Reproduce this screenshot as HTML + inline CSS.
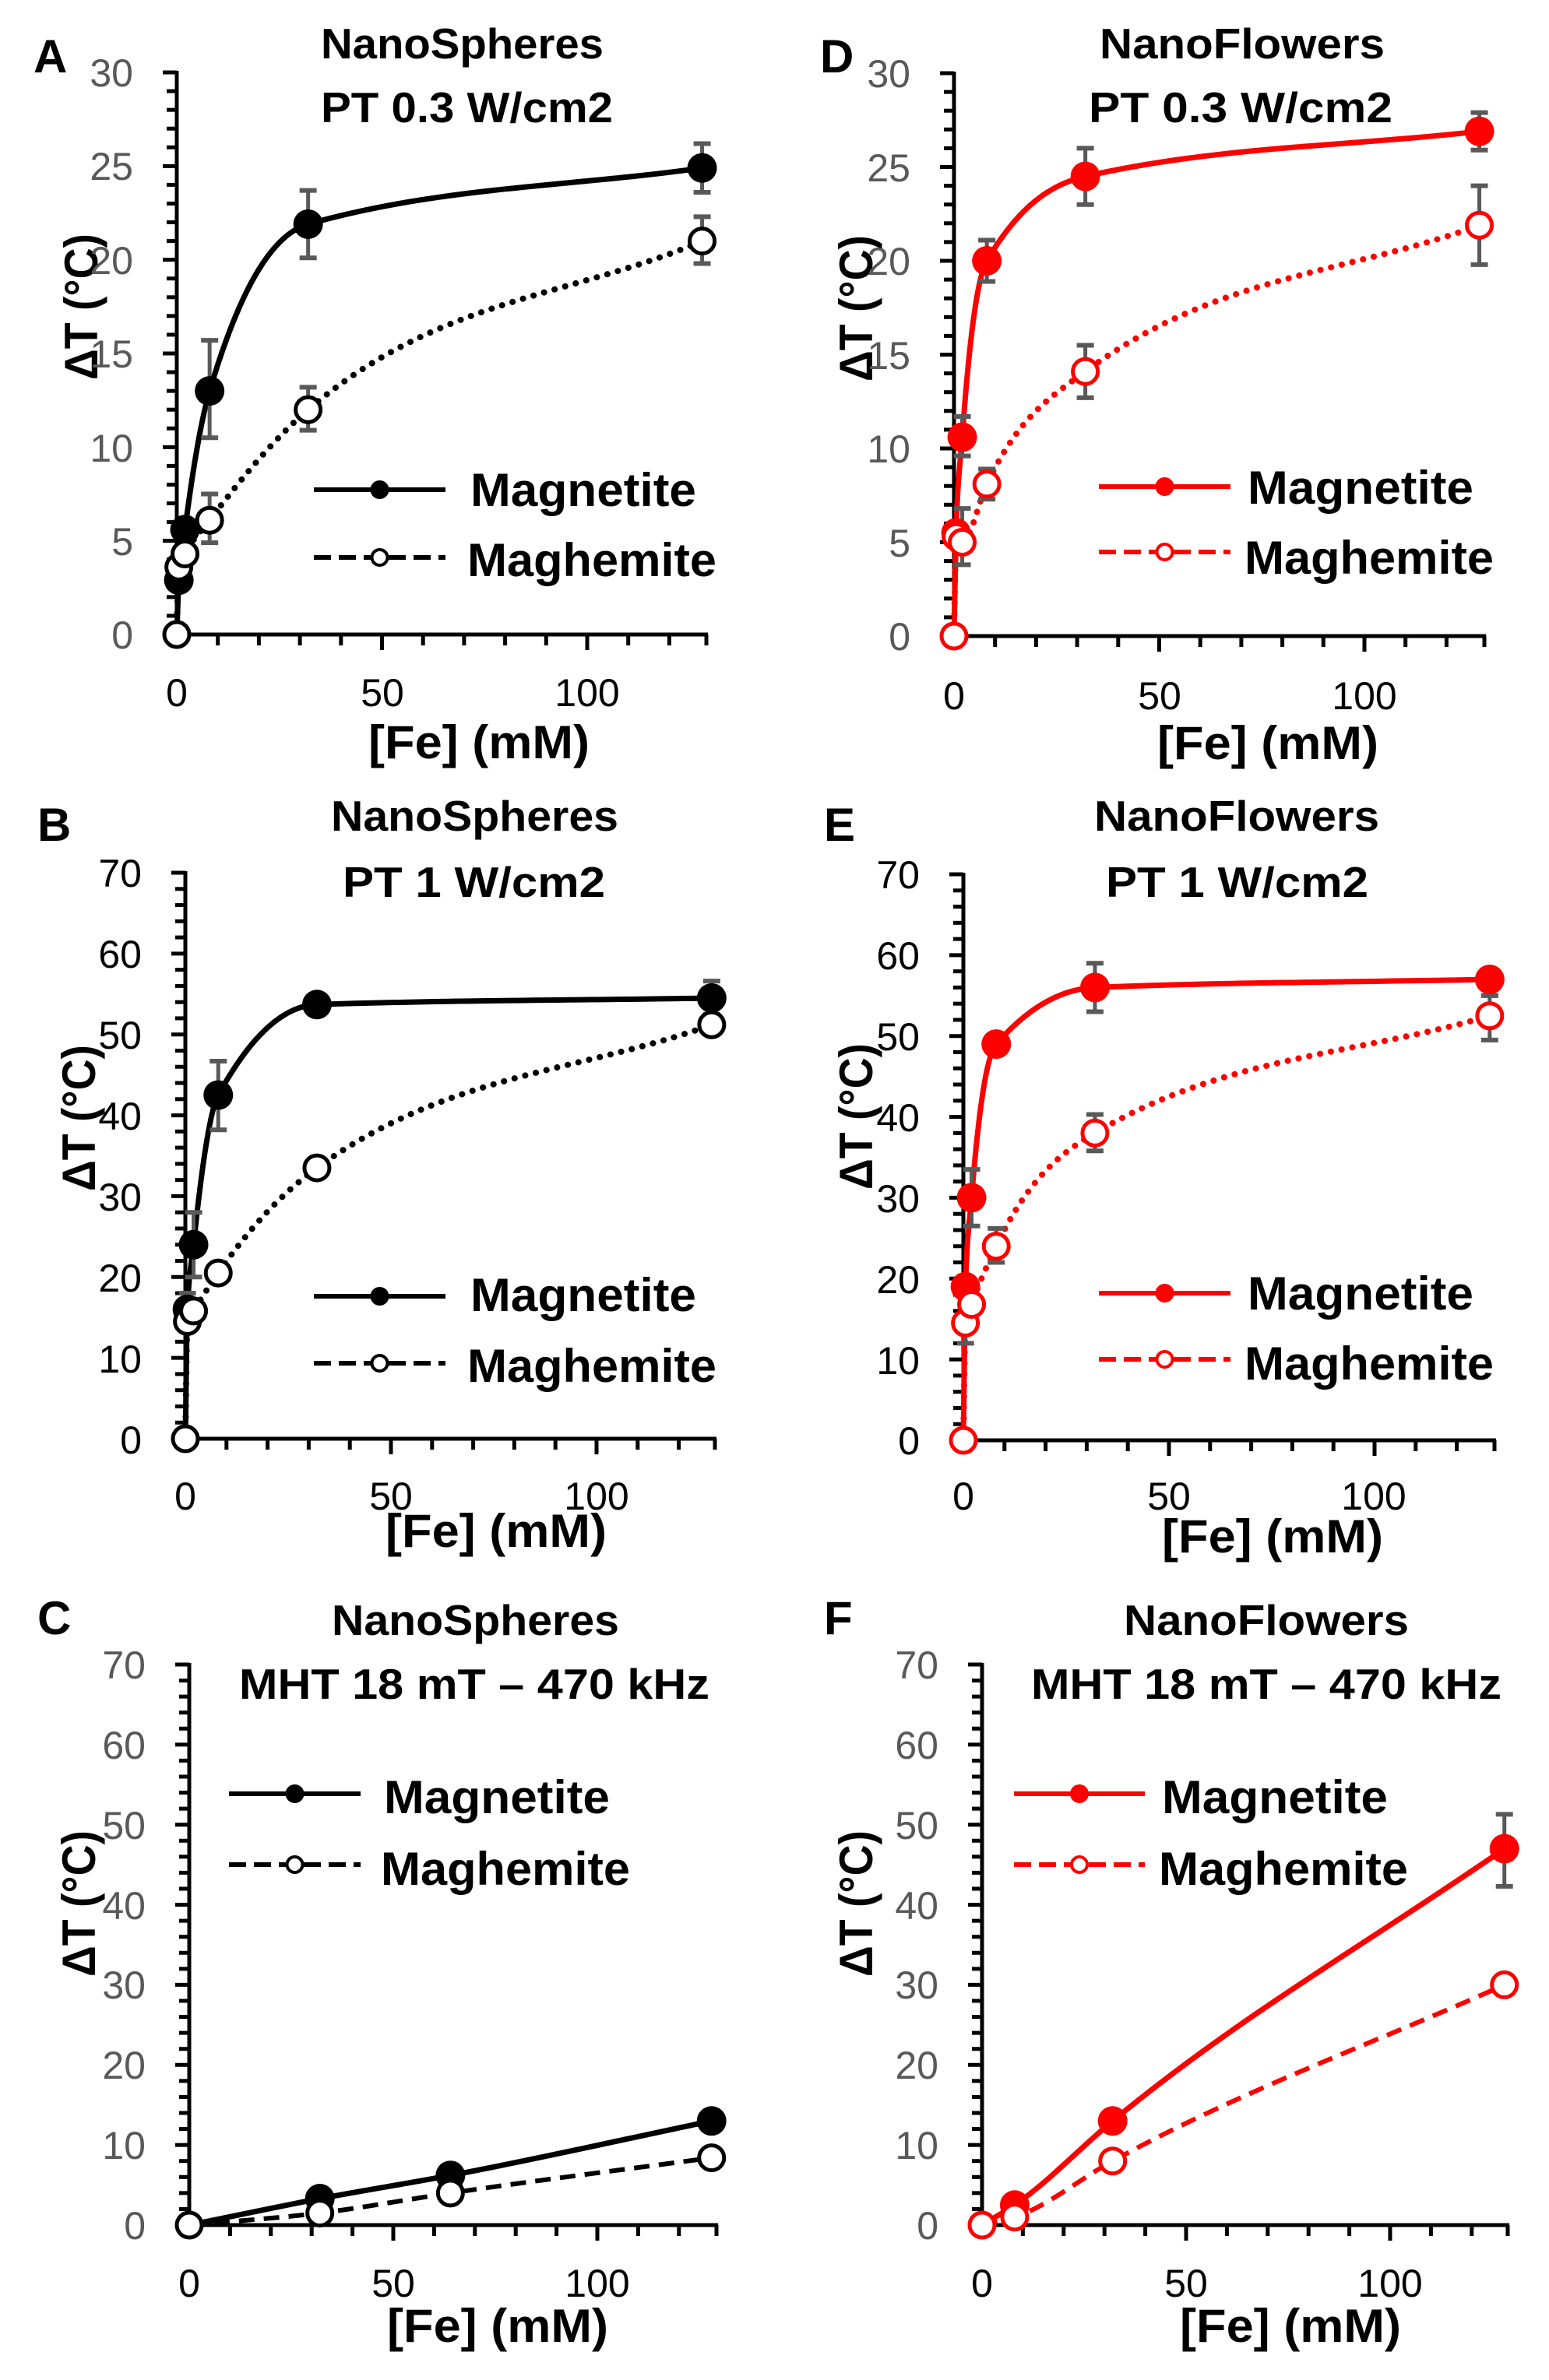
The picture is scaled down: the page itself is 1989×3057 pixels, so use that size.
<!DOCTYPE html>
<html><head><meta charset="utf-8"><style>
html,body{margin:0;padding:0;background:#fff;}
svg{display:block;}
text{font-family:"Liberation Sans",sans-serif;}
.t{font-weight:bold;font-size:55px;fill:#000;}
.lg{font-weight:bold;font-size:60px;fill:#000;}
.lt{font-weight:bold;font-size:60px;fill:#000;}
.yl{font-size:50px;text-anchor:end;}
.xl{font-size:50px;text-anchor:middle;fill:#000;}
.g{fill:#595959;}
.k{fill:#000;}
</style></head><body>
<svg id="s" width="1989" height="3057" viewBox="0 0 1989 3057" xmlns="http://www.w3.org/2000/svg">
<g id="plots"></g>
<text class="lt" x="43" y="93">A</text>
<text class="lt" x="48" y="1080">B</text>
<text class="lt" x="48" y="2099">C</text>
<text class="lt" x="1053" y="93">D</text>
<text class="lt" x="1058" y="1080">E</text>
<text class="lt" x="1058" y="2099">F</text>
<text class="t" x="412" y="75" textLength="363" lengthAdjust="spacingAndGlyphs">NanoSpheres</text>
<text class="t" x="412" y="157" textLength="375" lengthAdjust="spacingAndGlyphs">PT 0.3 W/cm2</text>
<text class="t" x="425" y="1067" textLength="369" lengthAdjust="spacingAndGlyphs">NanoSpheres</text>
<text class="t" x="440" y="1152" textLength="337" lengthAdjust="spacingAndGlyphs">PT 1 W/cm2</text>
<text class="t" x="426" y="2100" textLength="369" lengthAdjust="spacingAndGlyphs">NanoSpheres</text>
<text class="t" x="307" y="2182" textLength="604" lengthAdjust="spacingAndGlyphs">MHT 18 mT – 470 kHz</text>
<text class="t" x="1412" y="75" textLength="366" lengthAdjust="spacingAndGlyphs">NanoFlowers</text>
<text class="t" x="1398" y="157" textLength="390" lengthAdjust="spacingAndGlyphs">PT 0.3 W/cm2</text>
<text class="t" x="1405" y="1067" textLength="366" lengthAdjust="spacingAndGlyphs">NanoFlowers</text>
<text class="t" x="1420" y="1152" textLength="337" lengthAdjust="spacingAndGlyphs">PT 1 W/cm2</text>
<text class="t" x="1443" y="2100" textLength="366" lengthAdjust="spacingAndGlyphs">NanoFlowers</text>
<text class="t" x="1324" y="2182" textLength="604" lengthAdjust="spacingAndGlyphs">MHT 18 mT – 470 kHz</text>
<text class="lg" x="604" y="650" textLength="290" lengthAdjust="spacingAndGlyphs">Magnetite</text>
<text class="lg" x="600" y="740" textLength="320" lengthAdjust="spacingAndGlyphs">Maghemite</text>
<text class="lg" x="604" y="1684" textLength="290" lengthAdjust="spacingAndGlyphs">Magnetite</text>
<text class="lg" x="600" y="1775" textLength="320" lengthAdjust="spacingAndGlyphs">Maghemite</text>
<text class="lg" x="493" y="2329" textLength="290" lengthAdjust="spacingAndGlyphs">Magnetite</text>
<text class="lg" x="489" y="2421" textLength="320" lengthAdjust="spacingAndGlyphs">Maghemite</text>
<text class="lg" x="1602" y="647" textLength="290" lengthAdjust="spacingAndGlyphs">Magnetite</text>
<text class="lg" x="1598" y="737" textLength="320" lengthAdjust="spacingAndGlyphs">Maghemite</text>
<text class="lg" x="1602" y="1682" textLength="290" lengthAdjust="spacingAndGlyphs">Magnetite</text>
<text class="lg" x="1598" y="1772" textLength="320" lengthAdjust="spacingAndGlyphs">Maghemite</text>
<text class="lg" x="1492" y="2329" textLength="290" lengthAdjust="spacingAndGlyphs">Magnetite</text>
<text class="lg" x="1488" y="2421" textLength="320" lengthAdjust="spacingAndGlyphs">Maghemite</text>
<text class="lt" transform="translate(125,394) rotate(-90)" text-anchor="middle" font-size="56" textLength="188" lengthAdjust="spacingAndGlyphs">ΔT (°C)</text>
<text class="lt" transform="translate(122,1436) rotate(-90)" text-anchor="middle" font-size="56" textLength="188" lengthAdjust="spacingAndGlyphs">ΔT (°C)</text>
<text class="lt" transform="translate(122,2445) rotate(-90)" text-anchor="middle" font-size="56" textLength="188" lengthAdjust="spacingAndGlyphs">ΔT (°C)</text>
<text class="lt" transform="translate(1120,396) rotate(-90)" text-anchor="middle" font-size="56" textLength="188" lengthAdjust="spacingAndGlyphs">ΔT (°C)</text>
<text class="lt" transform="translate(1120,1434) rotate(-90)" text-anchor="middle" font-size="56" textLength="188" lengthAdjust="spacingAndGlyphs">ΔT (°C)</text>
<text class="lt" transform="translate(1120,2445) rotate(-90)" text-anchor="middle" font-size="56" textLength="188" lengthAdjust="spacingAndGlyphs">ΔT (°C)</text>
<text class="lt" x="615" y="974" text-anchor="middle" textLength="284" lengthAdjust="spacingAndGlyphs">[Fe] (mM)</text>
<text class="lt" x="637" y="1987" text-anchor="middle" textLength="284" lengthAdjust="spacingAndGlyphs">[Fe] (mM)</text>
<text class="lt" x="639" y="3008" text-anchor="middle" textLength="284" lengthAdjust="spacingAndGlyphs">[Fe] (mM)</text>
<text class="lt" x="1628" y="975" text-anchor="middle" textLength="284" lengthAdjust="spacingAndGlyphs">[Fe] (mM)</text>
<text class="lt" x="1634" y="1994" text-anchor="middle" textLength="284" lengthAdjust="spacingAndGlyphs">[Fe] (mM)</text>
<text class="lt" x="1657" y="3008" text-anchor="middle" textLength="284" lengthAdjust="spacingAndGlyphs">[Fe] (mM)</text>
<g class="yl g"><text x="171" y="111">30</text><text x="171" y="231">25</text><text x="171" y="352">20</text><text x="171" y="472">15</text><text x="171" y="593">10</text><text x="171" y="713">5</text><text x="171" y="833">0</text></g>
<g class="xl"><text x="227" y="907">0</text><text x="491" y="907">50</text><text x="754" y="907">100</text></g>
<g class="yl k"><text x="182" y="1139">70</text><text x="182" y="1243">60</text><text x="182" y="1347">50</text><text x="182" y="1451">40</text><text x="182" y="1555">30</text><text x="182" y="1659">20</text><text x="182" y="1763">10</text><text x="182" y="1867">0</text></g>
<g class="xl"><text x="238" y="1939">0</text><text x="502" y="1939">50</text><text x="766" y="1939">100</text></g>
<g class="yl g"><text x="187" y="2156">70</text><text x="187" y="2259">60</text><text x="187" y="2362">50</text><text x="187" y="2465">40</text><text x="187" y="2567">30</text><text x="187" y="2670">20</text><text x="187" y="2773">10</text><text x="187" y="2876">0</text></g>
<g class="xl"><text x="243" y="2950">0</text><text x="505" y="2950">50</text><text x="767" y="2950">100</text></g>
<g class="yl g"><text x="1169" y="112">30</text><text x="1169" y="233">25</text><text x="1169" y="353">20</text><text x="1169" y="474">15</text><text x="1169" y="594">10</text><text x="1169" y="715">5</text><text x="1169" y="835">0</text></g>
<g class="xl"><text x="1225" y="911">0</text><text x="1489" y="911">50</text><text x="1752" y="911">100</text></g>
<g class="yl k"><text x="1181" y="1141">70</text><text x="1181" y="1245">60</text><text x="1181" y="1349">50</text><text x="1181" y="1453">40</text><text x="1181" y="1557">30</text><text x="1181" y="1661">20</text><text x="1181" y="1765">10</text><text x="1181" y="1868">0</text></g>
<g class="xl"><text x="1237" y="1939">0</text><text x="1501" y="1939">50</text><text x="1764" y="1939">100</text></g>
<g class="yl g"><text x="1205" y="2156">70</text><text x="1205" y="2259">60</text><text x="1205" y="2362">50</text><text x="1205" y="2465">40</text><text x="1205" y="2567">30</text><text x="1205" y="2670">20</text><text x="1205" y="2773">10</text><text x="1205" y="2876">0</text></g>
<g class="xl"><text x="1261" y="2950">0</text><text x="1523" y="2950">50</text><text x="1785" y="2950">100</text></g>
</svg>
<script>
(function(){
var NS="http://www.w3.org/2000/svg",G=document.getElementById("plots");
function el(n,a){var e=document.createElementNS(NS,n);for(var k in a)e.setAttribute(k,a[k]);G.appendChild(e);return e;}
function mono(p){
 var n=p.length,s=[],t=[],i;
 for(i=0;i<n-1;i++)s.push((p[i+1][1]-p[i][1])/(p[i+1][0]-p[i][0]));
 t[0]=s[0];t[n-1]=s[n-2];
 for(i=1;i<n-1;i++){var h0=p[i][0]-p[i-1][0],h1=p[i+1][0]-p[i][0];
  if(s[i-1]*s[i]<=0)t[i]=0;else{var q=(s[i-1]*h1+s[i]*h0)/(h0+h1);
   t[i]=Math.sign(s[i])*Math.min(Math.abs(s[i-1]),Math.abs(s[i]),0.5*Math.abs(q))*2;
   if(Math.abs(t[i])>Math.abs(q))t[i]=q;}}
 var d="M"+p[0][0]+","+p[0][1];
 for(i=0;i<n-1;i++){var h=(p[i+1][0]-p[i][0])/3;
  d+=" C"+(p[i][0]+h)+","+(p[i][1]+t[i]*h)+" "+(p[i+1][0]-h)+","+(p[i+1][1]-t[i+1]*h)+" "+p[i+1][0]+","+p[i+1][1];}
 return d;}
var RED="#ff0000";
var P=[
{x0:227,y0:815,yt:93,ym:30,xe:909,xs:5.27,mi:1,ma:5,c:"#000",leg:[403,572,629,716],
 s:[{p:[[0,0],[0.5,2.9],[2,5.6],[8,13],[32,21.9],[128,24.9]],f:1,d:"",e:[[8,10.5,15.7],[32,20.1,23.7],[128,23.6,26.2]]},
    {p:[[0,0],[0.5,3.6],[2,4.3],[8,6.1],[32,12],[128,21]],f:0,d:"dot",e:[[8,4.9,7.5],[32,10.9,13.2],[128,19.8,22.3]]}]},
{x0:238,y0:1848,yt:1121,ym:70,xe:920,xs:5.28,mi:2,ma:10,c:"#000",leg:[403,572,1665,1751],
 s:[{p:[[0,0],[0.5,16],[2,24],[8,42.5],[32,53.7],[128,54.5]],f:1,d:"",e:[[0.5,14,18],[2,20,28],[8,38.2,46.7],[128,52.5,56.6]]},
    {p:[[0,0],[0.5,14.5],[2,15.8],[8,20.5],[32,33.5],[128,51.2]],f:0,d:"dot",e:[]}]},
{x0:243,y0:2858,yt:2138,ym:70,xe:922,xs:5.24,mi:2,ma:10,c:"#000",leg:[294,463,2304,2395],
 s:[{p:[[0,0],[32,3.3],[64,6.2],[128,13]],f:1,d:"",e:[]},
    {p:[[0,0],[32,1.5],[64,4],[128,8.4]],f:0,d:"dash",e:[]}]},
{x0:1225,y0:817,yt:94,ym:30,xe:1908,xs:5.27,mi:1,ma:5,c:RED,leg:[1411,1580,625,709],
 s:[{p:[[0,0],[0.5,5.5],[2,10.6],[8,20],[32,24.5],[128,26.9]],f:1,d:"",e:[[2,9.6,11.7],[8,18.9,21.1],[32,23,26],[128,25.9,27.9]]},
    {p:[[0,0],[0.5,5.3],[2,5],[8,8.1],[32,14.1],[128,21.9]],f:0,d:"dot",e:[[2,3.8,6.8],[8,7.3,8.9],[32,12.7,15.5],[128,19.8,24]]}]},
{x0:1237,y0:1850,yt:1123,ym:70,xe:1921,xs:5.28,mi:2,ma:10,c:RED,leg:[1411,1580,1661,1746],
 s:[{p:[[0,0],[0.5,19],[2,30],[8,49],[32,56],[128,57]],f:1,d:"",e:[[2,26.5,33.5],[32,53,59],[128,55,58]]},
    {p:[[0,0],[0.5,14.5],[2,16.8],[8,24],[32,38],[128,52.5]],f:0,d:"dot",e:[[0.5,12,20],[8,22,26.2],[32,35.8,40.3],[128,49.5,55]]}]},
{x0:1261,y0:2858,yt:2138,ym:70,xe:1938,xs:5.24,mi:2,ma:10,c:RED,leg:[1302,1470,2304,2395],
 s:[{p:[[0,0],[8,2.5],[32,13],[128,47]],f:1,d:"",e:[[128,42.3,51.3]]},
    {p:[[0,0],[8,1],[32,8],[128,30]],f:0,d:"dash",e:[]}]}
];
P.forEach(function(c){
 var xs=c.xs,ys=(c.y0-c.yt)/c.ym;
 function X(v){return c.x0+v*xs;} function Y(v){return c.y0-v*ys;}
 el("line",{x1:c.x0,y1:c.yt-2,x2:c.x0,y2:c.y0+2,stroke:"#000","stroke-width":5});
 el("line",{x1:c.x0-2,y1:c.y0,x2:c.xe,y2:c.y0,stroke:"#000","stroke-width":5});
 for(var v=0;v<=c.ym+0.001;v+=c.mi){var mj=Math.abs(v/c.ma-Math.round(v/c.ma))<1e-6;
  el("line",{x1:c.x0-(mj?18:13),y1:Y(v),x2:c.x0,y2:Y(v),stroke:"#000","stroke-width":5});}
 for(var u=10;X(u)<=c.xe+1;u+=10){var mj2=u%50==0;
  el("line",{x1:X(u),y1:c.y0,x2:X(u),y2:c.y0+(mj2?20:14),stroke:"#000","stroke-width":5});}
 el("line",{x1:c.xe-2,y1:c.y0,x2:c.xe-2,y2:c.y0+14,stroke:"#000","stroke-width":5});
 c.s.forEach(function(s){
  var pts=s.p.map(function(q){return[X(q[0]),Y(q[1])];});
  var a={d:mono(pts),fill:"none",stroke:c.c,"stroke-width":7,"stroke-linejoin":"round"};
  if(s.d=="dot"){a["stroke-dasharray"]="0.1 14";a["stroke-linecap"]="round";a["stroke-width"]=8;}
  if(s.d=="dash"){a["stroke-dasharray"]="20 12";a["stroke-width"]=6;}
  el("path",a);
 });
 c.s.forEach(function(s){s.e.forEach(function(e){
  var x=X(e[0]);
  el("line",{x1:x,y1:Y(e[1]),x2:x,y2:Y(e[2]),stroke:"#595959","stroke-width":5});
  el("line",{x1:x-11,y1:Y(e[1]),x2:x+11,y2:Y(e[1]),stroke:"#595959","stroke-width":6});
  el("line",{x1:x-11,y1:Y(e[2]),x2:x+11,y2:Y(e[2]),stroke:"#595959","stroke-width":6});
 });});
 c.s.forEach(function(s){s.p.forEach(function(q){
  if(s.f&&q[0]==0&&q[1]==0)return;
  if(s.f)el("circle",{cx:X(q[0]),cy:Y(q[1]),r:19,fill:c.c});
  else el("circle",{cx:X(q[0]),cy:Y(q[1]),r:16,fill:"#fff",stroke:c.c,"stroke-width":5});
 });});
 var L=c.leg,mx=(L[0]+L[1])/2;
 el("line",{x1:L[0],y1:L[2],x2:L[1],y2:L[2],stroke:c.c,"stroke-width":6});
 el("circle",{cx:mx,cy:L[2],r:12,fill:c.c});
 el("line",{x1:L[0],y1:L[3],x2:L[1],y2:L[3],stroke:c.c,"stroke-width":6,"stroke-dasharray":"22 10"});
 el("circle",{cx:mx,cy:L[3],r:10,fill:"#fff",stroke:c.c,"stroke-width":4});
});
})();
</script>
</body></html>
